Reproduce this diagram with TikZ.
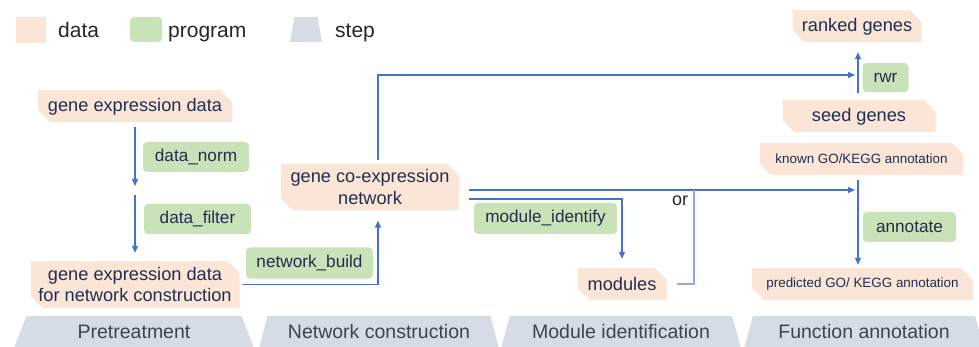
\documentclass[tikz,border=0pt]{standalone}
\usepackage{fontspec}
\setmainfont{Liberation Sans}
\usepackage{xcolor}
\usepackage{tikz}
\usetikzlibrary{arrows.meta,positioning,shapes.geometric,shapes.misc}
\definecolor{ink}{HTML}{1F2F4F}
\definecolor{legendink}{HTML}{262626}
\definecolor{stepink}{HTML}{3C4450}
\definecolor{datafill}{HTML}{FBE5D6}
\definecolor{progfill}{HTML}{C9E2B8}
\definecolor{stepfill}{HTML}{D6DCE5}
\definecolor{flowblue}{HTML}{4472C4}
\definecolor{flowpale}{HTML}{8FAADC}
\tikzset{
  >={Triangle[length=7pt,width=6pt]},
  datbox/.style={chamfered rectangle,chamfered rectangle corners={north east,south west},chamfered rectangle xsep=6pt,chamfered rectangle ysep=6pt,fill=datafill,inner sep=0pt,text=ink,font=\fontsize{18.2}{21.5}\selectfont,align=center},
  progbox/.style={rounded corners=4pt,fill=progfill,inner sep=0pt,text=ink,font=\fontsize{17.2}{20}\selectfont},
  stepbox/.style={trapezium,trapezium stretches=true,trapezium left angle=67,trapezium right angle=67,fill=stepfill,inner sep=1pt,text=stepink,font=\fontsize{19.5}{23}\selectfont},
  annotext/.style={font=\fontsize{13.4}{16}\selectfont},
  legend/.style={text=legendink,font=\fontsize{21}{25}\selectfont,inner sep=0pt,anchor=base west},
  flow/.style={->,line width=1.2pt,color=flowblue},
  orline/.style={line width=1.2pt,color=flowpale},
}
\begin{document}
\begin{tikzpicture}[x=1pt,y=-1pt]
  \useasboundingbox (0,0) rectangle (979,347);
  \clip (0,0) rectangle (979,347);
  \node[datbox,minimum width=30pt,minimum height=26pt] (lgdata) at (31,30) {};
  \node[legend] (lgdatatext) at (58,37.5) {data};
  \node[progbox,minimum width=32pt,minimum height=25pt] (lgprog) at (146,29.5) {};
  \node[legend] (lgprogtext) at (168,37.5) {program};
  \node[stepbox,minimum width=32pt,minimum height=25pt,trapezium left angle=79,trapezium right angle=79] (lgstep) at (306,29.5) {};
  \node[legend] (lgsteptext) at (335,37.5) {step};

  \node[datbox,minimum width=194pt,minimum height=32pt,text depth=2pt] (expr) at (135,106) {gene expression data};
  \node[progbox,minimum width=106pt,minimum height=30pt] (norm) at (196,157) {data\_norm};
  \node[progbox,minimum width=107pt,minimum height=30pt] (filter) at (197.5,219) {data\_filter};
  \node[datbox,minimum width=209pt,minimum height=47pt] (exprnet) at (135,284.5) {gene expression data\\for network construction};
  \node[progbox,minimum width=127pt,minimum height=31pt] (build) at (309.5,263) {network\_build};
  \node[datbox,minimum width=178pt,minimum height=42pt] (net) at (370,187) {gene co-expression\\network};
  \node[progbox,minimum width=143pt,minimum height=31pt] (modid) at (545.5,218.5) {module\_identify};
  \node[datbox,minimum width=89pt,minimum height=32pt] (modules) at (622,284) {modules};
  \node[text=legendink,font=\fontsize{18}{21}\selectfont,inner sep=0pt] (or) at (680,201) {or};
  \node[datbox,minimum width=129pt,minimum height=32pt,text depth=2pt] (ranked) at (857,26) {ranked genes};
  \node[progbox,minimum width=46pt,minimum height=29pt] (rwr) at (885.5,77.5) {rwr};
  \node[datbox,minimum width=153pt,minimum height=32pt,text depth=2pt] (seed) at (859,116) {seed genes};
  \node[datbox,annotext,minimum width=203pt,minimum height=32pt] (known) at (861.5,159) {known GO/KEGG annotation};
  \node[progbox,minimum width=93pt,minimum height=30pt] (annot) at (909.5,227) {annotate};
  \node[datbox,annotext,minimum width=221pt,minimum height=32pt] (pred) at (862.5,284) {predicted GO/ KEGG annotation};

  \node[stepbox,minimum width=240pt,minimum height=32pt] (pretreat) at (134,332) {Pretreatment};
  \node[stepbox,minimum width=240pt,minimum height=32pt] (netcons) at (379,332) {Network construction};
  \node[stepbox,minimum width=240pt,minimum height=32pt] (modident) at (621,332) {Module identification};
  \node[stepbox,minimum width=240pt,minimum height=32pt] (funcann) at (864,332) {Function annotation};

  \coordinate (normout) at (135,191);
  \coordinate (rwrjoin) at (858,75);
  \coordinate (annjoin) at (858,190);
  \coordinate (modjoin) at (622,199);
  \coordinate (orjoin) at (694,190);
  \draw[flow,shorten <=5pt,shorten >=5pt] (expr.south) -- (normout);
  \draw[flow,shorten <=4pt,shorten >=8pt] (normout) -- (exprnet.north);
  \draw[flow,shorten <=3pt,shorten >=10pt] (exprnet.east) -| ([xshift=8pt]net.south);
  \draw[flow,shorten <=3pt,shorten >=3pt] ([xshift=8pt]net.north) |- (rwrjoin);
  \draw[flow,shorten <=7pt,shorten >=10pt] (seed.north -| rwrjoin) -- (ranked.south -| rwrjoin);
  \draw[flow,shorten <=10pt,shorten >=3pt] (net.east |- annjoin) -- (annjoin);
  \draw[flow,shorten <=10pt,shorten >=9pt] (net.east |- modjoin) -| (modules.north);
  \draw[orline,shorten <=10pt] (modules.east) -| (orjoin);
  \draw[flow,shorten <=5pt,shorten >=3pt] (known.south -| annjoin) -- (pred.north -| annjoin);
\end{tikzpicture}
\end{document}
